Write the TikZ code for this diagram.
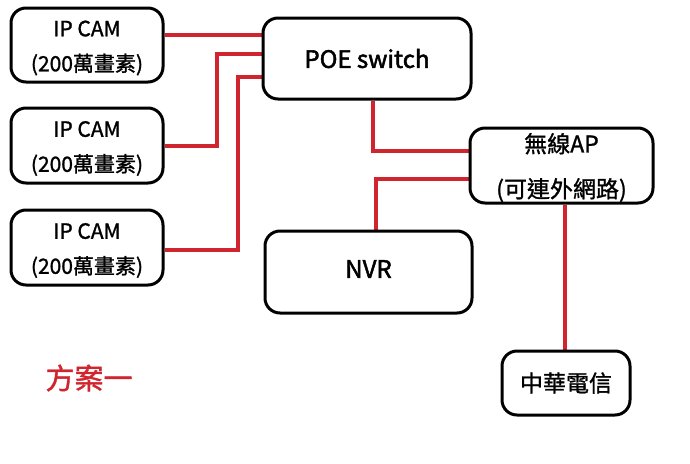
\documentclass[tikz,border=0pt]{standalone}
\usepackage{fontspec}
\setmainfont{Noto Sans CJK TC}
\newfontfamily\semib[FakeBold=1.2]{Noto Sans CJK TC}
\newfontfamily\strongb[FakeBold=2]{Noto Sans CJK TC}
\usetikzlibrary{backgrounds}
\definecolor{wirered}{RGB}{208,36,46}
\begin{document}
\begin{tikzpicture}[x=1pt,y=-1pt,
  box/.style={draw=black, line width=3pt, rounded corners=15pt, fill=white,
    inner sep=0pt, align=center},
  lbl/.style={inner sep=0pt, align=center},
  wire/.style={draw=wirered, line width=4.5pt, line join=miter}]
\path[use as bounding box] (0,0) rectangle (690,463);

\node[box, minimum width=152pt, minimum height=74pt] (cam1) at (87,45) {};
\node[box, minimum width=152pt, minimum height=75pt] (cam2) at (87,145.5) {};
\node[box, minimum width=152pt, minimum height=75pt] (cam3) at (87,247.5) {};
\node[lbl, font=\semib\fontsize{21}{35}\selectfont] (cam1t) at ([yshift=-3pt]cam1.center) {IP CAM\\(200萬畫素)};
\node[lbl, font=\semib\fontsize{21}{35}\selectfont] (cam2t) at ([yshift=-3pt]cam2.center) {IP CAM\\(200萬畫素)};
\node[lbl, font=\semib\fontsize{21}{35}\selectfont] (cam3t) at ([yshift=-3pt]cam3.center) {IP CAM\\(200萬畫素)};

\node[box, minimum width=208pt, minimum height=81pt, font=\strongb\fontsize{24}{28}\selectfont]
  (poe) at (367,58.5) {POE switch};
\node[box, minimum width=183pt, minimum height=75pt] (ap) at (561.5,165.5) {};
\node[lbl, font=\semib\fontsize{23}{45}\selectfont] (apt) at ([yshift=-2pt]ap.center) {無線AP\\(可連外網路)};
\node[box, minimum width=207pt, minimum height=82pt] (nvr) at (368.5,272) {};
\node[lbl, font=\strongb\fontsize{24}{28}\selectfont] (nvrt) at ([yshift=3pt]nvr.center) {NVR};
\node[box, minimum width=128pt, minimum height=64pt, font=\semib\fontsize{23}{28}\selectfont]
  (cht) at (566,383) {中華電信};
\node[text=wirered, font=\semib\fontsize{29}{32}\selectfont] (plan) at (89,378) {方案一};

\begin{scope}[on background layer]
\draw[wire] (cam1.east |- 0,35) -- (poe.west |- 0,35);
\draw[wire] (cam2.east |- 0,146) -| (217,54) -- (poe.west |- 0,54);
\draw[wire] (cam3.east |- 0,250) -| (238,77) -- (poe.west |- 0,77);
\draw[wire] (poe.south -| 373,0) |- (ap.west |- 0,151);
\draw[wire] (ap.west |- 0,179) -| (nvr.north -| 376,0);
\draw[wire] (ap.south -| 565,0) -- (cht.north -| 565,0);
\end{scope}
\end{tikzpicture}
\end{document}
